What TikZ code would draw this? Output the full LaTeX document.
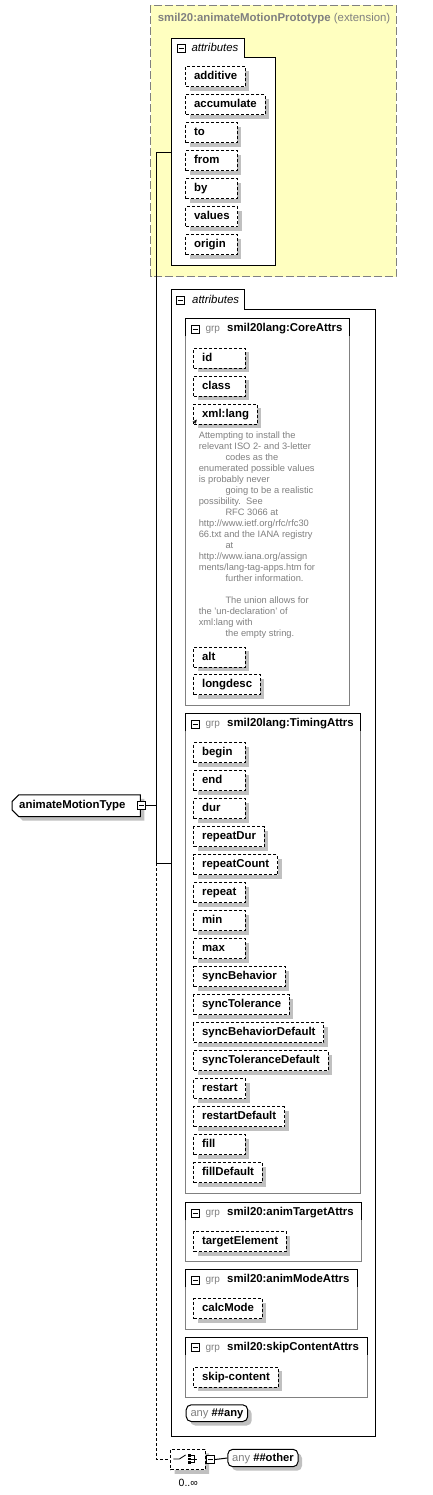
\documentclass[tikz,border=0pt]{standalone}
\usepackage{fontspec}
\setmainfont{Liberation Sans}
\usetikzlibrary{shadows}
\usetikzlibrary{shapes.misc}

\definecolor{protofill}{RGB}{255,255,192}
\definecolor{shadegray}{RGB}{192,192,192}
\definecolor{linegray}{RGB}{128,128,128}
\definecolor{textgray}{RGB}{128,128,128}

% keeps short attribute names left in a box of the smallest width
\newcommand\atext[1]{\setbox0\hbox{#1}\ifdim\wd0<35pt\makebox[35pt][l]{#1}\else#1\fi}

\tikzset{
  txt/.style={inner sep=0pt, anchor=west, text height=8pt, text depth=2pt,
    font=\fontsize{11.4}{13}\selectfont},
  attr/.style={draw, dash pattern=on 3pt off 2pt, fill=white, anchor=north west,
    minimum height=20pt, inner xsep=8.3pt, inner ysep=0pt, text height=8pt, text depth=2pt,
    font=\fontsize{11.4}{13}\selectfont\bfseries,
    drop shadow={shadow xshift=4pt, shadow yshift=-4pt, opacity=1, fill=shadegray}},
  minusbox/.style={draw, solid, fill=white, minimum size=8pt, inner sep=0pt,
    path picture={\draw ([xshift=1.5pt]path picture bounding box.west) -- ([xshift=-1.5pt]path picture bounding box.east);}},
  grptag/.style={txt, text=textgray, font=\fontsize{10}{12}\selectfont},
  typebox/.style={draw, chamfered rectangle, chamfered rectangle corners={north west,south west},
    chamfered rectangle xsep=3pt, fill=white, anchor=west, minimum height=21.7pt,
    inner xsep=4pt, inner ysep=0pt, text height=8pt, text depth=2pt,
    font=\fontsize{11.4}{13}\selectfont\bfseries,
    drop shadow={shadow xshift=4pt, shadow yshift=-4pt, opacity=1, fill=shadegray}},
  anybox/.style={draw, rounded corners=5pt, fill=white, anchor=north west,
    inner xsep=4.3pt, inner ysep=0pt, text height=8pt, text depth=2pt,
    font=\fontsize{11.2}{13}\selectfont,
    drop shadow={shadow xshift=4pt, shadow yshift=-4pt, opacity=1, fill=shadegray}},
  seqbox/.style={draw, dash pattern=on 3pt off 2pt, chamfered rectangle, chamfered rectangle xsep=5pt,
    fill=white, minimum width=34.3pt, minimum height=20.7pt, inner sep=0pt,
    drop shadow={shadow xshift=4pt, shadow yshift=-4pt, opacity=1, fill=shadegray}}
}

\begin{document}
\begin{tikzpicture}[x=1pt, y=-1pt, line width=1pt]
  \useasboundingbox (0,0) rectangle (432,1495);

  %prototype extension
  \draw[linegray, dash pattern=on 8pt off 3pt, fill=protofill] (150.7,5.3) rectangle (396,277);
  \node[txt, text=textgray] (prototitle) at (157.3,19) {\textbf{smil20:animateMotionPrototype} (extension)};
  \draw[fill=white] (171.7,38.7) -- (244.3,38.7) -- (244.3,57.3) -- (275.7,57.3) -- (275.7,265.7) -- (171.7,265.7) -- cycle;
  \node[minusbox] (protominus) at (181,48.7) {};
  \node[txt, font=\fontsize{11.4}{13}\selectfont\itshape] (prototab) at (191,48.7) {attributes};
  \foreach \attname [count=\i from 0] in {additive,accumulate,to,from,by,values,origin}
    \node[attr] (proto\i) at (185.3,66.3+28*\i) {\atext{\attname}};

  %own attributes
  \draw[fill=white] (171.7,290) -- (244.3,290) -- (244.3,309.3) -- (375.3,309.3) -- (375.3,1436.7) -- (171.7,1436.7) -- cycle;
  \node[minusbox] (mainminus) at (180,300.8) {};
  \node[txt, font=\fontsize{11.4}{13}\selectfont\itshape] (maintab) at (191.7,300.7) {attributes};

  %attribute groups
  \foreach \gtop/\gright/\gbot/\gname [count=\g] in {318.3/349.3/705/smil20lang:CoreAttrs,
      713.3/360.7/1193.3/smil20lang:TimingAttrs, 1202.3/361/1261/smil20:animTargetAttrs,
      1269.3/357.7/1329/smil20:animModeAttrs, 1337/367.7/1397.3/smil20:skipContentAttrs} {
    \draw[linegray] (185.5,\gtop) rectangle (\gright,\gbot);
    \draw (185.5,\gtop+18) -- (185.5,\gtop) -- (\gright,\gtop) -- (\gright,\gtop+18);
    \node[minusbox] (grpminus\g) at (195.2,\gtop+10.8) {};
    \node[grptag] (grptag\g) at (205,\gtop+10.3) {grp};
    \node[txt, font=\fontsize{11.4}{13}\selectfont\bfseries] (grpname\g) at (226.7,\gtop+10.3) {\gname};
  }

  \foreach \attname/\atop [count=\i] in {id/347.7, class/375.7, xml:lang/403.7, alt/646.7, longdesc/674.3}
    \node[attr] (core\i) at (193.3,\atop) {\atext{\attname}};
  \draw[-stealth, line width=0.8pt] ([shift={(0,-1)}]core3.south west) -- ++(3.5,-4);
  \node[anchor=north west, inner sep=0pt, align=left, text=textgray, font=\fontsize{9.3}{11}\selectfont]
    (langdoc) at (198.3,431.2) {Attempting to install the\\
    relevant ISO 2- and 3-letter\\
    \hspace*{26.7pt}codes as the\\
    enumerated possible values\\
    is probably never\\
    \hspace*{26.7pt}going to be a realistic\\
    possibility.\ \ See\\
    \hspace*{26.7pt}RFC 3066 at\\
    http://www.ietf.org/rfc/rfc30\\
    66.txt and the IANA registry\\
    \hspace*{26.7pt}at\\
    http://www.iana.org/assign\\
    ments/lang-tag-apps.htm for\\
    \hspace*{26.7pt}further information.\\
    \mbox{}\\
    \hspace*{26.7pt}The union allows for\\
    the 'un-declaration' of\\
    xml:lang with\\
    \hspace*{26.7pt}the empty string.};

  \foreach \attname [count=\i from 0] in {begin,end,dur,repeatDur,repeatCount,repeat,min,max,
      syncBehavior,syncTolerance,syncBehaviorDefault,syncToleranceDefault,restart,restartDefault,fill,fillDefault}
    \node[attr] (timing\i) at (193.3,742.3+28*\i) {\atext{\attname}};

  \node[attr] (target1) at (193.3,1231) {\atext{targetElement}};
  \node[attr] (mode1) at (193.3,1298.3) {\atext{calcMode}};
  \node[attr] (skip1) at (193.3,1366.7) {\atext{skip-content}};
  \node[anybox, minimum height=16.7pt] (anyattr) at (185.7,1404.3) {\textcolor{textgray}{any} \textbf{\#\#any}};

  %complex type and its links
  \node[typebox] (amt) at (11.7,805.8) {animateMotionType\hspace*{8pt}};
  \node[minusbox] (amtminus) at ([xshift=1pt]amt.east) {};
  \coordinate (fork) at (156.7,805.8);
  \coordinate (protoin) at (171.7,152.7);
  \coordinate (mainin) at (171.7,863.3);
  \coordinate (mainbend) at (156.7,863.3);
  \draw (amtminus.east) -- (fork);
  \draw (protoin) -| (fork) |- (mainin);

  %any other element
  \node[seqbox] (seq) at (187.85,1459.6) {};
  \draw[dash pattern=on 3pt off 2pt] (mainbend) |- (seq.west);
  \begin{scope}[shift={(seq.center)}, line width=0.8pt]
    \draw (-14.5,-0.6) -- (-8.5,-0.6) -- (-2.3,-4.6);
    \fill (0.35,-5.3) rectangle (3.15,-2.9);
    \fill (0.35,-1.8) rectangle (3.15,0.6);
    \fill (0.35,1.7) rectangle (3.15,4.1);
    \draw (3.15,-4.1) -- (6.15,-4.1) -- (6.15,2.9) -- (3.15,2.9);
    \draw (3.15,-0.6) -- (9.15,-0.6);
  \end{scope}
  \node[minusbox] (seqminus) at (210.5,1459.5) {};
  \node[anybox, anchor=west, minimum height=17.4pt] (other) at (227.3,1458) {\textcolor{textgray}{any} \textbf{\#\#other}};
  \draw (seqminus.east) -- (other.west);
  \node[inner sep=0pt, font=\fontsize{10.5}{12}\selectfont] (occurs) at (188.3,1483.3) {0..∞};
\end{tikzpicture}
\end{document}
